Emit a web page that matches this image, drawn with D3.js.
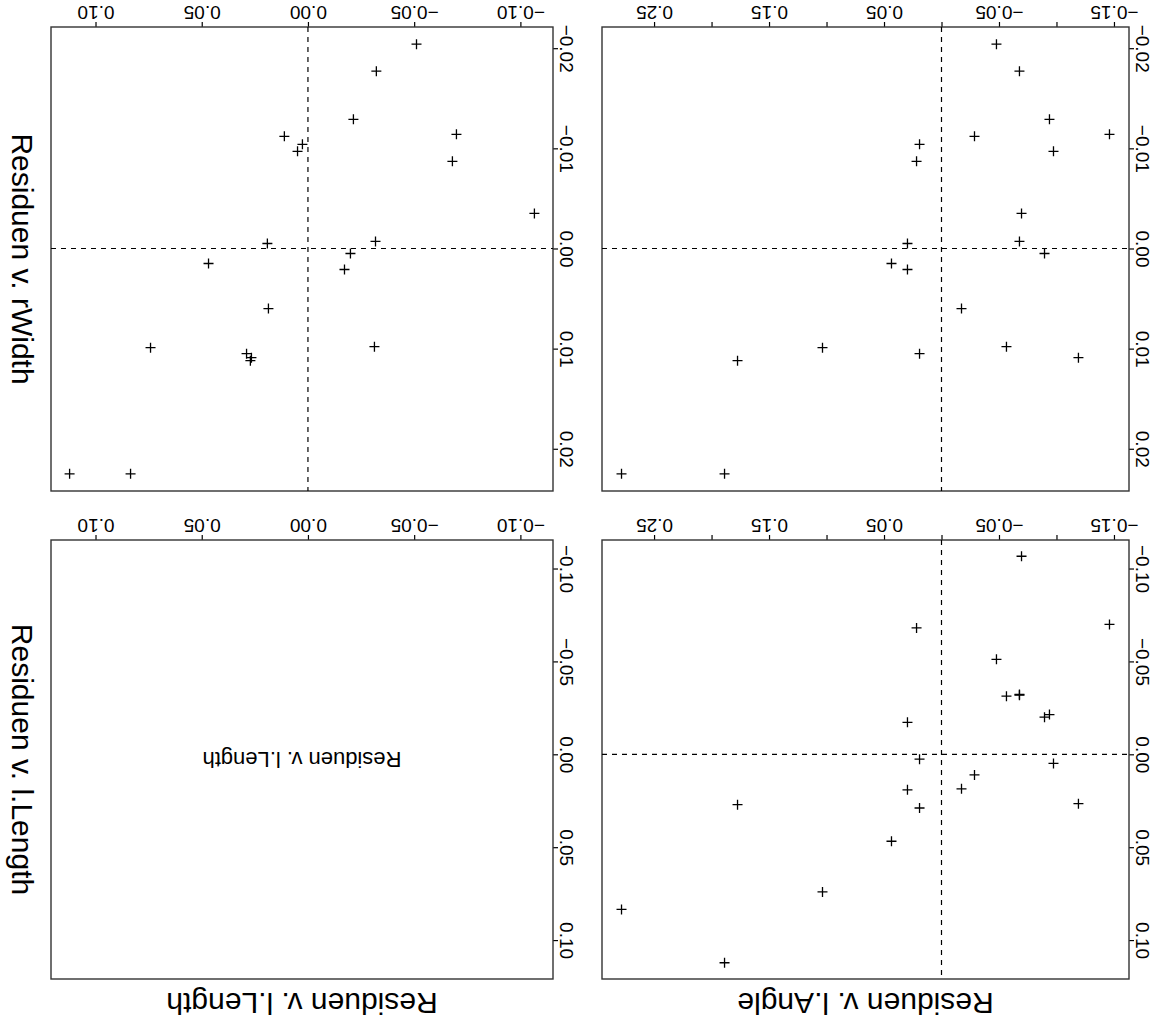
<!DOCTYPE html>
<html><head><meta charset="utf-8">
<script src="https://cdn.jsdelivr.net/npm/d3@7"></script>
<style>
body{margin:0;background:#fff}
svg{display:block}
text{font-family:"Liberation Sans",Arial,Helvetica,sans-serif;fill:#000}
</style>
</head><body>
<svg id="c" width="1153" height="1031"></svg>
<script>
// residuals per observation
const lLength = [-0.0511,-0.0322,-0.0214,-0.0699,0.0111,0.0026,0.0049,-0.0680,-0.1066,-0.0318,0.0191,-0.0200,0.0468,-0.0172,0.0186,0.0741,-0.0313,0.0289,0.0266,0.0271,0.0835,0.1122];
const lAngle  = [-0.0478,-0.0678,-0.0939,-0.1461,-0.0287,0.0191,-0.0974,0.0217,-0.0696,-0.0678,0.0296,-0.0896,0.0435,0.0296,-0.0174,0.1035,-0.0565,0.0191,-0.1191,0.1774,0.2783,0.1887];
const rWidth  = [-0.0204,-0.0177,-0.0129,-0.0114,-0.0112,-0.0104,-0.0097,-0.0087,-0.0035,-0.0007,-0.0005,0.0005,0.0015,0.0021,0.0060,0.0099,0.0098,0.0105,0.0109,0.0112,0.0225,0.0225];

const colNames = ["Residuen v. l.Length","Residuen v. l.Angle"];
const rowNames = ["Residuen v. rWidth","Residuen v. l.Length"];
const diagLabel = "Residuen v. l.Length";

const ticksL = [-0.10,-0.05,0.00,0.05,0.10];
const ticksA = [-0.15,-0.10,-0.05,0.00,0.05,0.10,0.15,0.20,0.25];
const labelsA = [-0.15,-0.05,0.05,0.15,0.25];
const ticksW = [-0.02,-0.01,0.00,0.01,0.02];

const svg = d3.select("#c");
const fmt = d3.format(".2f");

function ext(v){const mn=d3.min(v),mx=d3.max(v),r=mx-mn;return [mn-0.04*r,mx+0.04*r];}

const cols = [{x0:51,x1:553,var:lLength,ticks:ticksL,labels:ticksL},
              {x0:602,x1:1129,var:lAngle,ticks:ticksA,labels:labelsA}];
const rows = [{y0:27,y1:491,var:rWidth,ticks:ticksW},
              {y0:540,y1:979,var:lLength,ticks:ticksL}];

cols.forEach(c=>{const d=ext(c.var);c.scale=d3.scaleLinear().domain([d[1],d[0]]).range([c.x0,c.x1]);});
rows.forEach(r=>{const d=ext(r.var);r.scale=d3.scaleLinear().domain([d[0],d[1]]).range([r.y0,r.y1]);});

const tickFs = 19;
const plus = "M-5,0H5M0,-5V5";

rows.forEach((r,ri)=>{
  cols.forEach((c,ci)=>{
    const g = svg.append("g");
    // top axis
    const ax = d3.axisTop(c.scale).tickValues(c.ticks).tickSize(5).tickSizeOuter(0)
      .tickFormat(v=>c.labels.some(l=>Math.abs(l-v)<1e-9)?fmt(v):"");
    const ga = g.append("g").attr("transform",`translate(0,${r.y0})`).call(ax);
    ga.select(".domain").remove();
    ga.selectAll("line").attr("stroke","#000").attr("stroke-width",1.2);
    ga.selectAll("text").attr("y",null).attr("dy","0.35em")
      .attr("transform","translate(0,-14) rotate(180)")
      .style("font-size",tickFs+"px").attr("fill","#000")
      .style("font-family",'"Liberation Sans",Arial,sans-serif');
    // right axis
    const ay = d3.axisRight(r.scale).tickValues(r.ticks).tickSize(5).tickSizeOuter(0).tickFormat(fmt);
    const gy = g.append("g").attr("transform",`translate(${c.x1},0)`).call(ay);
    gy.select(".domain").remove();
    gy.selectAll("line").attr("stroke","#000").attr("stroke-width",1.2);
    gy.selectAll("text").attr("x",null).attr("dy","0.35em").attr("text-anchor","middle")
      .attr("transform","translate(14,0) rotate(90)")
      .style("font-size",tickFs+"px").attr("fill","#000")
      .style("font-family",'"Liberation Sans",Arial,sans-serif');
    // box
    g.append("rect").attr("x",c.x0).attr("y",r.y0).attr("width",c.x1-c.x0).attr("height",r.y1-r.y0)
      .attr("fill","none").attr("stroke","#333").attr("stroke-width",1.4);

    if(ri===1 && ci===0){
      g.append("text").attr("x",(c.x0+c.x1)/2).attr("y",(r.y0+r.y1)/2).attr("dy","0.35em")
        .attr("text-anchor","middle")
        .attr("transform",`rotate(180,${(c.x0+c.x1)/2},${(r.y0+r.y1)/2})`)
        .style("font-size","22px").text(diagLabel);
      return;
    }
    // reference lines
    g.append("line").attr("x1",c.scale(0)).attr("x2",c.scale(0)).attr("y1",r.y0).attr("y2",r.y1)
      .attr("stroke","#000").attr("stroke-width",1.2).attr("stroke-dasharray","5,5");
    g.append("line").attr("x1",c.x0).attr("x2",c.x1).attr("y1",r.scale(0)).attr("y2",r.scale(0))
      .attr("stroke","#000").attr("stroke-width",1.2).attr("stroke-dasharray","5,5");
    // points
    g.selectAll("path.pt").data(d3.range(c.var.length)).enter().append("path").attr("class","pt")
      .attr("d",plus).attr("transform",i=>`translate(${c.scale(c.var[i])},${r.scale(r.var[i])})`)
      .attr("stroke","#000").attr("stroke-width",1.3).attr("fill","none");
  });
});

// titles
cols.forEach((c,ci)=>{
  const cx=(c.x0+c.x1)/2, cy=1003;
  svg.append("text").attr("x",cx).attr("y",cy).attr("dy","0.35em").attr("text-anchor","middle")
    .attr("transform",`rotate(180,${cx},${cy})`).style("font-size","30px").text(colNames[ci]);
});
rows.forEach((r,ri)=>{
  const cx=22, cy=(r.y0+r.y1)/2;
  svg.append("text").attr("x",cx).attr("y",cy).attr("dy","0.35em").attr("text-anchor","middle")
    .attr("transform",`rotate(90,${cx},${cy})`).style("font-size","30px").text(rowNames[ri]);
});
</script>
</body></html>
